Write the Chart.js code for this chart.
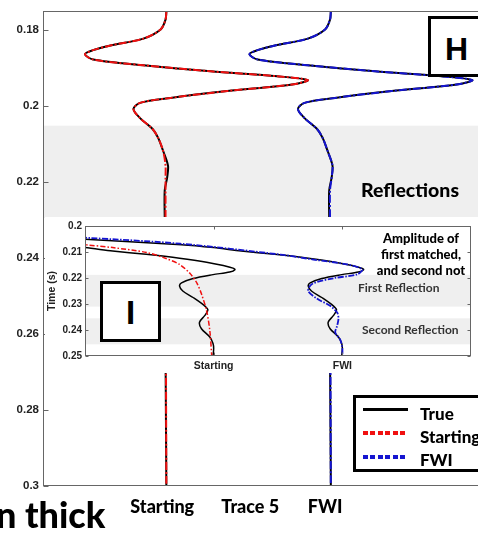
<!DOCTYPE html>
<html>
<head>
<meta charset="utf-8">
<script src="https://cdn.jsdelivr.net/npm/chart.js@4.4.1/dist/chart.umd.min.js"></script>
<style>
  html, body { margin: 0; padding: 0; background: #fff; overflow: hidden; }
  body { width: 478px; height: 540px; position: relative; font-family: Lato, "Liberation Sans", sans-serif; }
  canvas { position: absolute; }
  #mainChart { left: 0; top: 0; }
  #insetChart { left: 45px; top: 217px; background: #fff; }
  .box { position: absolute; background: #fff; border: 3px solid #000; overflow: visible; }
  .lbl { position: absolute; white-space: nowrap; font-weight: 900; line-height: 1; }
  .swatch { position: absolute; }
</style>
</head>
<body>
<canvas id="mainChart" width="530" height="540"></canvas>

<div class="lbl" style="left:361px; top:180px; font-size:19.5px;">Reflections</div>

<div class="box" style="left:428px; top:16px; width:60px; height:55px;">
  <span class="lbl" style="left:14px; top:14px; font-family:'Liberation Sans'; font-weight:bold; font-size:32px;">H</span>
</div>

<canvas id="insetChart" width="433" height="156"></canvas>

<div class="box" style="left:100px; top:281px; width:55px; height:55px;">
  <span class="lbl" style="left:23px; top:12px; font-family:'Liberation Sans'; font-weight:bold; font-size:33px;">I</span>
</div>

<div class="lbl" style="left:371px; top:230px; width:100px; text-align:center; font-size:13px; line-height:16px;">Amplitude of<br>first matched,<br>and second not</div>
<div class="lbl" style="left:358px; top:282px; font-size:12px; font-weight:bold; color:#333;">First Reflection</div>
<div class="lbl" style="left:362px; top:324px; font-size:12px; font-weight:bold; color:#333;">Second Reflection</div>

<div class="box" style="left:353px; top:395px; width:140px; height:71px;">
  <div class="swatch" style="left:7px; top:10px; width:45px; height:3px; background:#000;"></div>
  <div class="swatch" style="left:7px; top:33px; width:45px; height:4px; background:repeating-linear-gradient(to right, #f01010 0 5px, transparent 5px 7.5px);"></div>
  <div class="swatch" style="left:7px; top:57px; width:45px; height:4px; background:repeating-linear-gradient(to right, #1515d0 0 5px, transparent 5px 7.5px);"></div>
  <span class="lbl" style="left:64px; top:7px; font-size:17px;">True</span>
  <span class="lbl" style="left:64px; top:30px; font-size:17px;">Starting</span>
  <span class="lbl" style="left:64px; top:53px; font-size:17px;">FWI</span>
</div>

<div class="lbl" style="left:-4px; top:496px; font-size:36px;">n thick</div>

<script>
// main panel (trace 5): time in s, amplitude in trace-spacing units
const mainTime = [0.1752, 0.1773, 0.1799, 0.1823, 0.1841, 0.1854, 0.1864, 0.1878, 0.1893, 0.1909, 0.1922, 0.1932, 0.1943,
                  0.1961, 0.1979, 0.1992, 0.2008, 0.2032, 0.2060, 0.2084, 0.2118, 0.2157, 0.2188, 0.2222, 0.2293, 0.3000];
const mainTrue = [0, -0.01, -0.07, -0.28, -0.68, -0.90, -0.99, -0.89, -0.28, 0.54, 1.35, 1.72, 1.55,
                  0.74, 0.05, -0.32, -0.40, -0.32, -0.17, -0.10, -0.04, 0.02, 0.01, -0.02, -0.02, 0];
const mainStarting = [0, -0.01, -0.07, -0.28, -0.68, -0.90, -0.99, -0.89, -0.28, 0.54, 1.35, 1.72, 1.55,
                      0.74, 0.05, -0.32, -0.40, -0.32, -0.17, -0.10, -0.04, -0.01, -0.01, -0.01, -0.01, 0];
const mainFwi = [0, -0.01, -0.07, -0.28, -0.68, -0.90, -0.99, -0.89, -0.28, 0.54, 1.35, 1.72, 1.55,
                 0.74, 0.05, -0.32, -0.40, -0.32, -0.17, -0.10, -0.04, 0.02, 0.01, -0.01, -0.01, 0];
const mainYTicks = [0.18, 0.2, 0.22, 0.24, 0.26, 0.28, 0.3];
const mainXTicks = [0.95, 2.02, 2.93];
const mainXLabels = ['Starting', 'Trace 5', 'FWI'];
const mainBands = [[0.2052, 0.2295]];

// inset (zoomed amplitude)
const insetTrueTime = [0.2035, 0.2050, 0.2072, 0.2083, 0.2096, 0.2109, 0.2124, 0.2139, 0.2152, 0.2162, 0.2168, 0.2177, 0.2187, 0.2202,
                       0.2219, 0.2231, 0.2250, 0.2275, 0.2307, 0.2323, 0.2345, 0.2370, 0.2395, 0.2427, 0.2452, 0.2471, 0.2500];
const insetTrue = [-5.0, -4.1, -2.5, -2.0, -1.57, -1.05, -0.53, -0.11, 0.15, 0.30, 0.33, 0.25, -0.01, -0.32,
                   -0.50, -0.53, -0.48, -0.32, -0.14, -0.09, -0.14, -0.22, -0.19, -0.06, -0.01, 0.00, -0.01];
const insetStartTime = [0.2050, 0.2072, 0.2083, 0.2102, 0.2125, 0.2148, 0.2182, 0.2220, 0.2261, 0.2326, 0.2402, 0.2500];
const insetStarting = [-2.9, -2.0, -1.57, -1.04, -0.74, -0.53, -0.37, -0.26, -0.19, -0.11, -0.06, -0.03];
const insetFwiTime = [0.2030, 0.2045, 0.2068, 0.2110, 0.2129, 0.2148, 0.2167, 0.2186, 0.2201, 0.2223,
                      0.2250, 0.2280, 0.2307, 0.2333, 0.2356, 0.2383, 0.2409, 0.2439, 0.2470, 0.2504];
const insetFwi = [-5.2, -4.0, -2.52, -0.96, -0.45, 0.08, 0.31, 0.23, -0.14, -0.47,
                  -0.53, -0.39, -0.19, -0.08, -0.06, -0.08, -0.11, -0.03, 0.00, 0.00];
const insetXTicks = [1, 3];
const insetXLabels = ['Starting', 'FWI'];
const insetBands = [[0.2188, 0.2310], [0.2355, 0.2455]];

// trace positions on the x axis
const startingOffset = 1;
const fwiOffset = 3;

const RED = '#f01010';
const BLUE = '#1515d0';
const tickFont = { family: 'Liberation Sans', weight: 'bold' };

const pts = (times, amps, offset) => times.map((t, i) => ({ x: offset + amps[i], y: t }));
const fmt = v => String(+(+v).toFixed(2));

function line(data, color, width, dash, order) {
    return {
        data: data, showLine: true, pointRadius: 0, borderColor: color, borderWidth: width,
        borderDash: dash, tension: 0.3, order: order, fill: false
    };
}

// grey bands + box frame with inward ticks
function framePlugin(bands, tickLen, allSides) {
    return {
        id: 'frame',
        beforeDatasetsDraw(chart) {
            const { ctx, chartArea: a, scales: { y } } = chart;
            ctx.save();
            ctx.fillStyle = '#efefef';
            bands.forEach(([t0, t1]) => {
                const y0 = y.getPixelForValue(t0), y1 = y.getPixelForValue(t1);
                ctx.fillRect(a.left, y0, a.right - a.left, y1 - y0);
            });
            ctx.restore();
        },
        afterDraw(chart) {
            const { ctx, chartArea: a, scales: { x, y } } = chart;
            ctx.save();
            ctx.strokeStyle = '#666';
            ctx.lineWidth = 1;
            const L = Math.round(a.left) + 0.5, R = Math.round(a.right) - 0.5;
            const T = Math.round(a.top) + 0.5, B = Math.round(a.bottom) - 0.5;
            ctx.strokeRect(L, T, R - L, B - T);
            ctx.beginPath();
            y.ticks.forEach(t => {
                const py = Math.round(y.getPixelForValue(t.value)) + 0.5;
                ctx.moveTo(L, py); ctx.lineTo(L + tickLen, py);
                if (allSides) { ctx.moveTo(R, py); ctx.lineTo(R - tickLen, py); }
            });
            if (allSides) {
                x.ticks.forEach(t => {
                    const px = Math.round(x.getPixelForValue(t.value)) + 0.5;
                    ctx.moveTo(px, T); ctx.lineTo(px, T + tickLen);
                    ctx.moveTo(px, B); ctx.lineTo(px, B - tickLen);
                });
            }
            ctx.stroke();
            ctx.restore();
        }
    };
}

// main panel
new Chart(document.getElementById('mainChart'), {
    type: 'scatter',
    data: {
        datasets: [
            line(pts(mainTime, mainStarting, startingOffset), RED, 2, [8, 2, 2, 2], 1),
            line(pts(mainTime, mainFwi, fwiOffset), BLUE, 2, [8, 2, 2, 2], 1),
            line(pts(mainTime, mainTrue, startingOffset), '#000', 2, [], 2),
            line(pts(mainTime, mainTrue, fwiOffset), '#000', 2, [], 2)
        ]
    },
    options: {
        responsive: false,
        animation: false,
        devicePixelRatio: 1,
        layout: { padding: { top: 9, right: 10, left: 0, bottom: 0 } },
        plugins: { legend: { display: false }, tooltip: { enabled: false } },
        scales: {
            x: {
                type: 'linear', min: -0.5, max: 5.3,
                grid: { display: false, drawTicks: false }, border: { display: false },
                afterBuildTicks: s => { s.ticks = mainXTicks.map(v => ({ value: v })); },
                afterFit: s => { s.height = 54; },
                ticks: {
                    padding: 10, color: '#000', maxRotation: 0, autoSkip: false,
                    font: { family: 'Lato', weight: '900', size: 18 },
                    callback: (v, i) => mainXLabels[i]
                }
            },
            y: {
                type: 'linear', reverse: true, min: 0.175, max: 0.3,
                grid: { display: false, drawTicks: false }, border: { display: false },
                afterBuildTicks: s => { s.ticks = mainYTicks.map(v => ({ value: v })); },
                afterFit: s => { s.width = 43; },
                ticks: { padding: 4, color: '#222', font: { ...tickFont, size: 11.5 }, callback: v => fmt(v) }
            }
        }
    },
    plugins: [framePlugin(mainBands, 5, false)]
});

// inset panel
new Chart(document.getElementById('insetChart'), {
    type: 'scatter',
    data: {
        datasets: [
            line(pts(insetStartTime, insetStarting, startingOffset), RED, 1.5, [5, 2, 1.5, 2], 1),
            line(pts(insetFwiTime, insetFwi, fwiOffset), BLUE, 1.8, [6, 1.5, 1.5, 1.5], 1),
            line(pts(insetTrueTime, insetTrue, startingOffset), '#000', 1.5, [], 2),
            line(pts(insetTrueTime, insetTrue, fwiOffset), '#000', 1.5, [], 2)
        ]
    },
    options: {
        responsive: false,
        animation: false,
        devicePixelRatio: 1,
        layout: { padding: { top: 7, right: 7, left: 0, bottom: 0 } },
        plugins: { legend: { display: false }, tooltip: { enabled: false } },
        scales: {
            x: {
                type: 'linear', min: -1, max: 5,
                grid: { display: false, drawTicks: false }, border: { display: false },
                afterBuildTicks: s => { s.ticks = insetXTicks.map(v => ({ value: v })); },
                afterFit: s => { s.height = 17; },
                ticks: {
                    padding: 4, color: '#222', maxRotation: 0, autoSkip: false,
                    font: { ...tickFont, size: 10.5 },
                    callback: (v, i) => insetXLabels[i]
                }
            },
            y: {
                type: 'linear', reverse: true, min: 0.2, max: 0.25,
                grid: { display: false, drawTicks: false }, border: { display: false },
                afterFit: s => { s.width = 40; },
                title: { display: true, text: 'Time (s)', color: '#222', padding: { top: 1, bottom: 0 }, font: { ...tickFont, size: 10.5 } },
                ticks: { stepSize: 0.01, padding: 3, color: '#222', font: { ...tickFont, size: 10 }, callback: v => fmt(v) }
            }
        }
    },
    plugins: [framePlugin(insetBands, 3, true)]
});
</script>
</body>
</html>
